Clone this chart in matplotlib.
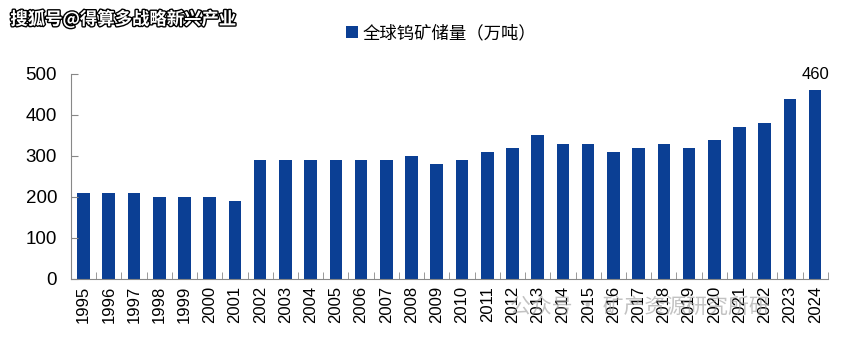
import matplotlib.pyplot as plt
import matplotlib.patheffects as pe

plt.rcParams['font.family'] = ['Noto Sans CJK SC', 'DejaVu Sans']

years = [str(y) for y in range(1995, 2025)]
reserves = [210, 210, 210, 200, 200, 200, 190, 290, 290, 290,
            290, 290, 290, 300, 280, 290, 310, 320, 350, 330,
            330, 310, 320, 330, 320, 340, 370, 380, 440, 460]
series_name = '全球钨矿储量（万吨）'
bar_color = '#0b3f94'
num_font = ['Liberation Sans', 'DejaVu Sans']

fig = plt.figure(figsize=(8.65, 3.47), dpi=100)
ax = fig.add_axes([0.082, 0.196, 0.875, 0.591])

x = list(range(len(years)))
ax.bar(x, reserves, width=0.5, color=bar_color, label=series_name)

ax.set_xlim(-0.5, len(years) - 0.5)
ax.set_ylim(0, 500)
ax.set_yticks(range(0, 501, 100))
ax.set_xticks(x)
ax.set_xticklabels(years, rotation=90, fontsize=12, family=num_font)
ax.tick_params(axis='x', length=0, pad=5)
ax.set_xticks([i + 0.5 for i in x], minor=True)
ax.tick_params(axis='x', which='minor', direction='in', length=5, color='#888888')
ax.tick_params(axis='y', direction='in', length=5, color='#888888', labelsize=13.5, pad=10)
for lab in ax.get_yticklabels():
    lab.set_family(num_font)

for s in ['top', 'right']:
    ax.spines[s].set_visible(False)
for s in ['left', 'bottom']:
    ax.spines[s].set_color('#888888')

# label on the last bar
ax.annotate(str(reserves[-1]), (x[-1], reserves[-1]), xytext=(0, 6),
            textcoords='offset points', ha='center', va='bottom', fontsize=12,
            family=num_font)

# legend
fig.legend(loc='center', bbox_to_anchor=(0.51, 0.905), frameon=False, fontsize=12.5,
           handlelength=0.7, handleheight=0.7, handletextpad=0.3)

# watermarks
fig.text(0.012, 0.945, '搜狐号@得算多战略新兴产业', fontsize=12.5, fontweight='bold',
         color='white', ha='left', va='center',
         path_effects=[pe.withStroke(linewidth=2, foreground='black')])
fig.text(0.59, 0.115, '公众号 · 矿产资源研究所研', fontsize=15, color='#9a9a9a',
         alpha=0.6, ha='left', va='center')

fig.savefig('out.png', dpi=100)
